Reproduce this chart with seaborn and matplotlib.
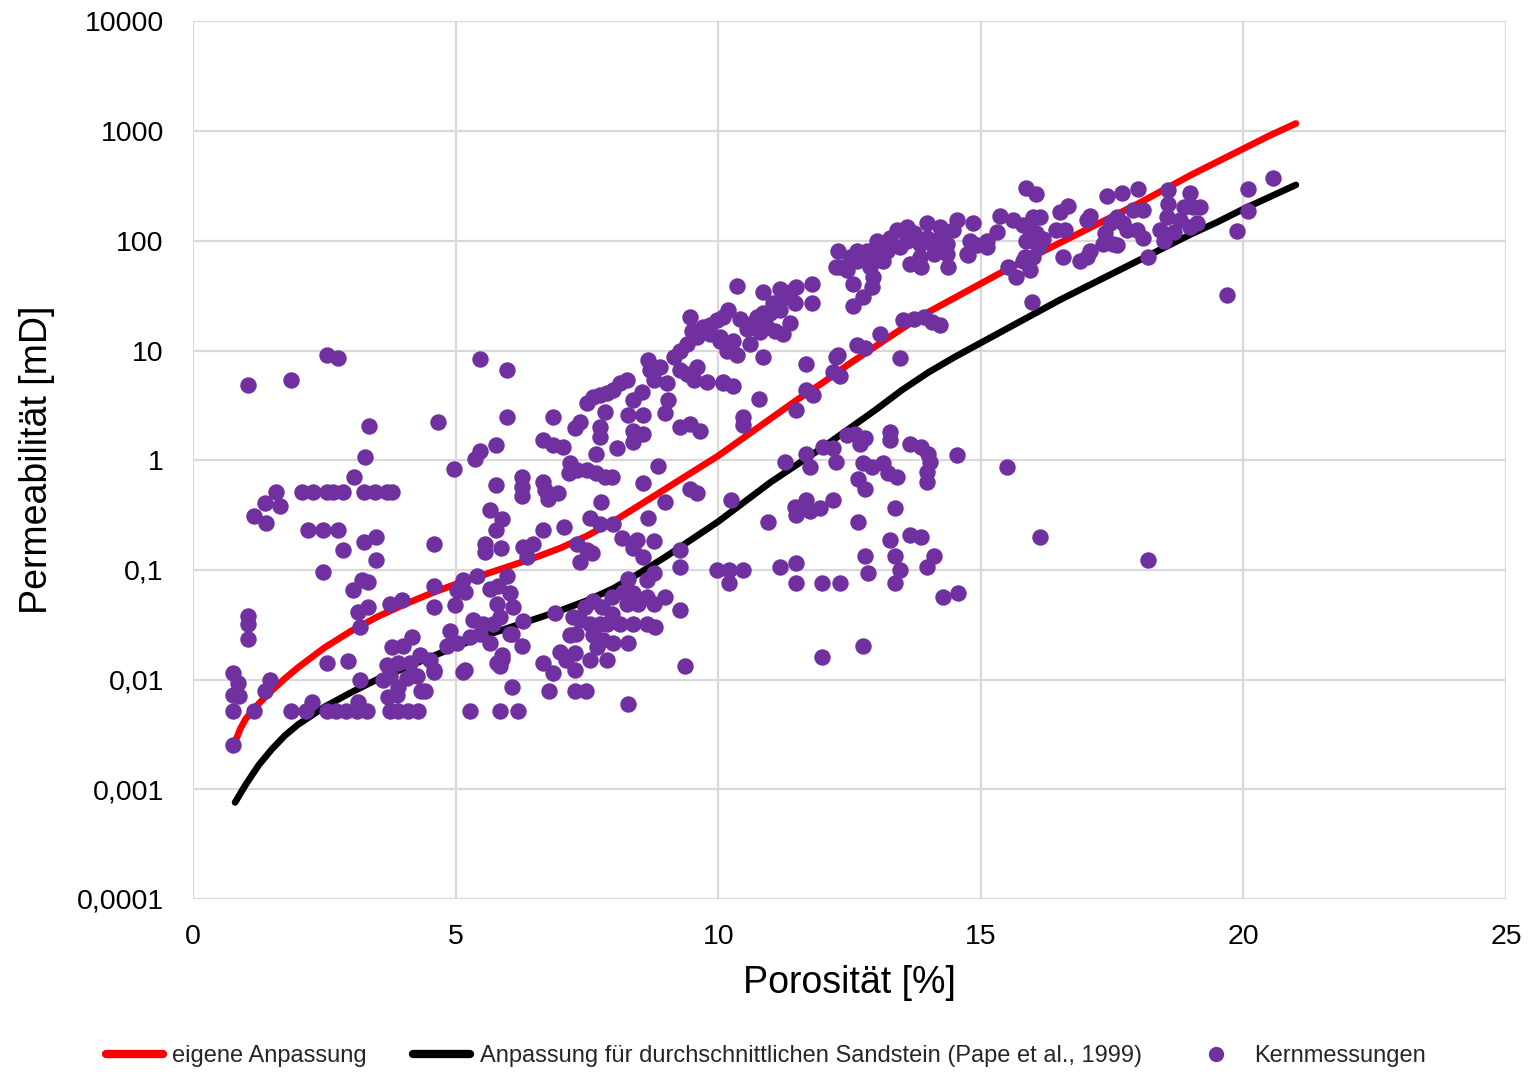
import numpy as np
import pandas as pd
import matplotlib
matplotlib.use("Agg")
import matplotlib.pyplot as plt
import seaborn as sns
from matplotlib.lines import Line2D

# ---------------- data ----------------
# fitted curve "eigene Anpassung": porosity [%] and log10 permeability [mD]
red_phi = [0.8, 0.9, 1.0, 1.25, 1.5, 1.75, 2.0, 2.5, 3.0, 3.5, 4.0, 4.5, 5.0, 5.5, 6.0, 6.5,
           7.0, 7.5, 8.0, 8.5, 9.0, 9.5, 10.0, 10.5, 11.0, 11.5, 12.0, 12.5, 13.0, 13.5, 14.0,
           14.5, 15.0, 15.5, 16.0, 16.5, 17.0, 17.5, 18.0, 18.5, 19.0, 19.5, 20.0, 20.5, 21.0]
red_logk = [-2.57, -2.45, -2.36, -2.22, -2.10, -1.99, -1.89, -1.71, -1.56, -1.43, -1.32,
            -1.22, -1.13, -1.05, -0.97, -0.89, -0.80, -0.69, -0.56, -0.41, -0.26, -0.11, 0.04,
            0.21, 0.38, 0.55, 0.71, 0.88, 1.04, 1.20, 1.35, 1.48, 1.61, 1.74, 1.86, 1.98, 2.10,
            2.22, 2.34, 2.47, 2.60, 2.72, 2.84, 2.96, 3.07]

# Pape et al. (1999) average sandstone curve
blk_phi = red_phi
blk_logk = [-3.12, -3.04, -2.96, -2.78, -2.635, -2.51, -2.41, -2.25, -2.12, -2.00, -1.90,
            -1.80, -1.70, -1.61, -1.53, -1.45, -1.37, -1.28, -1.17, -1.03, -0.88, -0.72, -0.56,
            -0.38, -0.20, -0.04, 0.12, 0.29, 0.46, 0.64, 0.80, 0.94, 1.07, 1.20, 1.33, 1.46,
            1.58, 1.70, 1.82, 1.94, 2.06, 2.17, 2.29, 2.40, 2.51]

# core measurements "Kernmessungen": porosity [%] and log10 permeability [mD]
core_phi = [
    1.05, 1.87, 2.55, 2.76, 3.36, 3.27, 3.07, 1.58, 1.37, 1.66, 1.17, 1.38,
    2.07, 2.28, 2.55, 2.67, 2.86, 3.26, 3.47, 3.69, 3.78,
    2.18, 2.47, 2.76, 2.86, 3.26, 3.48, 3.48, 2.47, 4.58,
    3.05, 3.22, 3.34, 3.14, 3.33, 3.17, 3.75, 3.97, 4.58, 4.58, 4.98,
    1.05, 1.05, 1.05, 2.55, 2.96,
    0.77, 0.86, 0.77, 0.88, 1.47, 1.37, 0.77, 1.17, 1.87,
    2.16, 2.55, 2.73, 2.92, 3.12, 3.31, 3.75, 3.91, 4.10, 4.28, 2.26, 3.15,
    3.72, 3.88, 3.91, 3.75, 3.69, 3.91, 4.13, 4.32, 4.51, 4.58, 3.78, 4.00, 4.16, 4.26, 4.07,
    4.35, 3.18, 3.62, 5.18, 5.27, 6.18, 6.07, 0.77,
    4.96, 5.46, 5.97, 5.97, 4.66, 5.37, 5.46, 5.77, 5.77, 5.65, 5.88, 5.77, 5.56, 5.56, 5.87,
    5.15, 5.18, 5.02, 5.40, 5.65, 5.81, 5.97, 6.04, 5.78, 6.10, 5.85, 5.34, 5.53, 5.72, 6.04,
    4.89, 4.83, 5.02, 5.27, 5.46, 5.65, 5.88, 5.78,
    8.67, 8.70, 8.77, 8.89, 9.15, 9.27, 9.40, 9.59, 9.84, 10.03, 10.16, 10.35, 9.27, 9.40,
    9.59, 9.53, 9.78, 10.10, 10.29, 9.02, 9.05, 8.99, 8.57, 8.29, 8.54, 8.38, 8.26, 8.13,
    8.00, 7.88, 7.75, 7.62, 7.50, 7.84, 7.75, 7.75, 7.37, 7.27, 6.86, 6.67, 6.86, 7.05, 7.68,
    8.07, 8.38, 8.57, 8.38, 9.27, 9.46, 9.65, 8.86, 8.57,
    7.18, 7.15, 7.31, 7.50, 7.68, 7.84, 7.97,
    6.67, 6.70, 6.76, 6.95, 6.26, 6.26, 6.26, 7.77, 7.56, 7.75, 8.00, 7.07, 6.67, 6.29, 6.48,
    6.35, 8.16, 8.45, 8.38, 8.57, 8.77, 8.67, 7.31, 7.50, 7.59, 7.37, 8.99, 9.46, 9.59, 10.25,
    9.27, 9.27, 9.97, 10.20, 10.48, 10.20,
    8.29, 8.19, 8.38, 8.64, 8.77, 8.64, 8.77, 8.99, 8.48, 8.26, 7.97, 7.78, 7.97, 7.88, 8.13,
    8.38, 8.64, 8.80, 7.75, 7.56, 7.37, 7.24, 7.46, 7.62, 7.30, 7.18, 7.62, 7.81, 8.00, 7.69,
    8.29, 7.88, 7.56, 7.11, 6.99, 7.27, 7.27, 6.86, 6.67, 6.77, 7.27, 7.49, 8.29, 9.37, 9.27,
    6.89, 6.29, 6.26, 6.07, 5.88, 5.84, 5.84, 5.15, 4.58, 4.41,
    10.35, 10.86, 11.18, 11.37, 11.49, 11.46, 11.30, 11.05, 10.99, 11.18, 10.86, 10.73, 10.67,
    10.54, 10.42, 10.19, 10.10, 9.97, 9.84, 9.72, 9.46, 9.50, 11.78, 11.78, 11.37, 11.24,
    11.08, 10.80, 10.92, 12.25,
    10.86, 10.61, 10.22, 10.29, 10.03, 11.68, 12.25, 12.19, 11.68, 11.81, 11.49, 10.77, 10.48,
    10.48, 10.10,
    11.27, 11.68, 11.75, 12.00, 12.19, 12.25, 11.46, 11.49, 11.68, 11.75, 11.94, 12.19, 10.95,
    11.18, 11.49, 11.49, 11.97, 12.32, 11.97,
    15.87, 16.06, 15.37, 15.62, 15.81, 16.00, 15.94, 15.87, 16.00,
    15.30, 15.11, 15.11, 14.86, 14.79, 14.73, 14.54, 14.48, 14.35, 14.35, 14.22, 14.22, 14.10,
    13.97, 13.97, 13.84, 13.84, 13.72, 13.59, 13.59, 13.46, 13.40, 13.27, 13.21, 13.14, 13.08,
    13.02, 12.95, 12.89, 12.83, 12.70, 12.64, 12.64, 12.51, 12.95, 12.92, 12.76, 12.57, 12.57,
    12.32, 12.29, 12.45, 13.65, 13.87, 14.10, 14.38, 14.92, 14.76,
    13.52, 13.72, 13.91, 14.07, 14.22, 13.08, 12.64, 12.80, 13.46, 12.29, 12.32, 15.52, 15.68,
    15.94, 15.97, 15.84,
    12.45, 12.61, 12.70, 12.80, 13.27, 13.27, 13.65, 13.87, 14.00, 14.03, 13.97, 13.97, 14.54,
    15.49, 12.76, 12.92, 13.14, 13.24, 13.40, 12.67, 12.80, 13.37, 12.67, 13.27, 13.65, 13.87,
    14.10, 13.97, 13.37, 13.46, 13.37, 12.80, 12.86, 14.29, 14.57, 12.76, 16.13,
    16.13, 15.94, 16.06, 16.19, 16.10, 16.00, 15.81, 16.51, 16.67, 16.44, 16.60, 16.57, 16.89,
    17.02, 17.08, 17.02, 17.08, 17.40, 17.68, 18.00, 17.37, 17.46, 17.59, 17.71, 17.78, 17.52,
    17.59, 17.33, 17.90, 18.09, 17.97, 18.09, 18.19, 18.57, 18.57, 18.54, 18.41, 18.48, 18.67,
    18.79, 18.86, 18.98, 19.05, 19.17, 18.98, 19.11, 19.87, 20.09, 20.09, 20.57, 19.68, 18.19,
]
core_logk = [
    0.69, 0.73, 0.96, 0.93, 0.31, 0.03, -0.155, -0.29, -0.39, -0.42, -0.51, -0.57,
    -0.294, -0.294, -0.294, -0.294, -0.294, -0.294, -0.294, -0.294, -0.294,
    -0.64, -0.64, -0.64, -0.82, -0.75, -0.70, -0.91, -1.02, -0.76,
    -1.18, -1.09, -1.11, -1.38, -1.34, -1.52, -1.31, -1.27, -1.15, -1.34, -1.32,
    -1.42, -1.49, -1.63, -1.85, -1.83,
    -1.94, -2.03, -2.14, -2.15, -2.00, -2.10, -2.29, -2.29, -2.29,
    -2.29, -2.29, -2.29, -2.29, -2.29, -2.29, -2.29, -2.29, -2.29, -2.29, -2.20, -2.20,
    -2.16, -2.14, -2.07, -1.97, -1.87, -1.85, -1.85, -1.78, -1.82, -1.93, -1.70, -1.69, -1.61,
    -1.97, -1.99, -2.10, -2.00, -2.00, -1.91, -2.29, -2.29, -2.07, -2.60,
    -0.08, 0.92, 0.82, 0.39, 0.35, 0.015, 0.08, 0.14, -0.23, -0.45, -0.54, -0.64, -0.76, -0.84,
    -0.80,
    -1.09, -1.20, -1.18, -1.06, -1.17, -1.15, -1.06, -1.21, -1.31, -1.34, -1.43, -1.46, -1.49,
    -1.49, -1.58, -1.56, -1.69, -1.67, -1.61, -1.58, -1.67, -1.81, -1.85,
    0.91, 0.82, 0.73, 0.85, 0.94, 1.00, 1.06, 1.12, 1.15, 1.09, 1.00, 0.96, 0.82, 0.79,
    0.85, 0.73, 0.71, 0.71, 0.68, 0.70, 0.55, 0.43, 0.41, 0.41, 0.62, 0.55, 0.73, 0.70,
    0.64, 0.61, 0.59, 0.58, 0.52, 0.44, 0.30, 0.21, 0.35, 0.29, 0.39, 0.18, 0.14, 0.12, 0.06,
    0.11, 0.27, 0.24, 0.17, 0.30, 0.33, 0.27, -0.05, -0.21,
    -0.03, -0.12, -0.09, -0.09, -0.12, -0.15, -0.15,
    -0.20, -0.27, -0.35, -0.30, -0.15, -0.24, -0.33, -0.38, -0.53, -0.58, -0.58, -0.61, -0.64,
    -0.79, -0.76, -0.88, -0.71, -0.73, -0.80, -0.88, -0.74, -0.53, -0.76, -0.82, -0.85, -0.93,
    -0.38, -0.26, -0.30, -0.36,
    -0.82, -0.97, -1.00, -1.00, -1.00, -1.12,
    -1.08, -1.20, -1.21, -1.09, -1.03, -1.25, -1.31, -1.25, -1.31, -1.31, -1.25, -1.34, -1.40,
    -1.49, -1.49, -1.49, -1.49, -1.52, -1.49, -1.49, -1.46, -1.43, -1.34, -1.28, -1.58, -1.59,
    -1.59, -1.64, -1.67, -1.70, -1.67, -1.82, -1.82, -1.82, -1.75, -1.76, -1.91, -1.94, -1.85,
    -2.10, -2.10, -2.10, -2.22, -1.88, -1.37,
    -1.39, -1.47, -1.69, -1.58, -1.78, -1.88, -2.29, -1.93, -1.91, -2.10,
    1.59, 1.53, 1.56, 1.53, 1.58, 1.43, 1.49, 1.43, 1.34, 1.37, 1.34, 1.31, 1.25,
    1.20, 1.29, 1.37, 1.31, 1.28, 1.23, 1.21, 1.31, 1.18, 1.61, 1.43, 1.25, 1.15,
    1.18, 1.17, 1.21, 1.76,
    0.94, 1.06, 1.03, 1.09, 1.12, 0.88, 0.94, 0.80, 0.64, 0.59, 0.46, 0.56, 0.39,
    0.32, 0.70,
    -0.02, 0.06, -0.06, 0.12, 0.11, -0.02, -0.43, -0.50, -0.36, -0.46, -0.44, -0.36, -0.56,
    -0.97, -0.94, -1.12, -1.12, -1.12, -1.79,
    2.48, 2.43, 2.23, 2.19, 2.14, 2.22, 2.10, 2.00, 2.00,
    2.08, 2.00, 1.94, 2.16, 2.00, 1.88, 2.19, 2.10, 1.97, 1.88, 2.13, 2.03, 1.94,
    2.16, 2.03, 1.97, 1.85, 2.07, 2.13, 2.00, 1.94, 2.10, 2.03, 1.91, 1.82, 1.97,
    2.00, 1.85, 1.76, 1.91, 1.88, 1.82, 1.91, 1.85, 1.67, 1.58, 1.49, 1.41, 1.61,
    1.76, 1.91, 1.73, 1.79, 1.76, 1.88, 1.76, 1.96, 1.87,
    1.28, 1.29, 1.31, 1.26, 1.23, 1.15, 1.05, 1.02, 0.93, 0.96, 0.77, 1.76, 1.67,
    1.73, 1.44, 1.85,
    0.23, 0.24, 0.15, 0.20, 0.26, 0.18, 0.15, 0.12, 0.06, -0.015, -0.11, -0.20, 0.05,
    -0.06, -0.03, -0.06, -0.03, -0.12, -0.15, -0.17, -0.26, -0.44, -0.56, -0.73, -0.68, -0.70,
    -0.87, -0.97, -0.87, -1.00, -1.12, -0.87, -1.03, -1.25, -1.21, -1.69, -0.70,
    2.22, 2.13, 2.07, 2.02, 1.94, 1.85, 1.82, 2.26, 2.32, 2.10, 2.10, 1.85, 1.82,
    1.85, 1.91, 2.19, 2.23, 2.41, 2.44, 2.47, 2.07, 2.16, 2.22, 2.16, 2.10, 1.97,
    1.96, 1.97, 2.28, 2.28, 2.10, 2.03, 1.85, 2.46, 2.34, 2.22, 2.10, 2.00, 2.08,
    2.19, 2.31, 2.44, 2.31, 2.31, 2.13, 2.16, 2.09, 2.47, 2.27, 2.57, 1.51, -0.91,
]

x_ticks = [0, 5, 10, 15, 20, 25]
y_ticks = [0.0001, 0.001, 0.01, 0.1, 1, 10, 100, 1000, 10000]
y_tick_labels = ["0,0001", "0,001", "0,01", "0,1", "1", "10", "100", "1000", "10000"]

label_red = "eigene Anpassung"
label_blk = "Anpassung für durchschnittlichen Sandstein (Pape et al., 1999)"
label_pts = "Kernmessungen"
x_label = "Porosität [%]"
y_label = "Permeabilität [mD]"

# ---------------- build tables ----------------
red_df = pd.DataFrame({"phi": red_phi, "k": 10.0 ** np.array(red_logk)})
blk_df = pd.DataFrame({"phi": blk_phi, "k": 10.0 ** np.array(blk_logk)})
core_df = pd.DataFrame({"phi": core_phi, "k": 10.0 ** np.array(core_logk)})

# ---------------- plot ----------------
sns.set_theme(style="white")
plt.rcParams['font.family'] = ['Liberation Sans', 'DejaVu Sans']

RED = "#FF0000"
BLACK = "#000000"
PURPLE = "#7030A0"
GRID = "#D9D9D9"

fig = plt.figure(figsize=(15.32, 10.74), dpi=100)
ax = fig.add_axes([0.126, 0.163, 0.857, 0.817])

sns.lineplot(data=red_df, x="phi", y="k", ax=ax, color=RED, linewidth=4.8,
             sort=True, estimator=None, zorder=3, solid_capstyle="round",
             solid_joinstyle="round")
sns.lineplot(data=blk_df, x="phi", y="k", ax=ax, color=BLACK, linewidth=4.8,
             sort=True, estimator=None, zorder=3, solid_capstyle="round",
             solid_joinstyle="round")
sns.scatterplot(data=core_df, x="phi", y="k", ax=ax, color=PURPLE, s=140,
                linewidth=0, zorder=4)

ax.set_yscale("log")
ax.set_xlim(0, 25)
ax.set_ylim(0.0001, 10000)
ax.set_xticks(x_ticks)
ax.set_xticklabels([str(t) for t in x_ticks])
ax.set_yticks(y_ticks)
ax.set_yticklabels(y_tick_labels)
ax.yaxis.set_minor_locator(matplotlib.ticker.NullLocator())

ax.grid(True, which="major", color=GRID, linewidth=1.6)
ax.set_axisbelow(True)
for sp in ax.spines.values():
    sp.set_visible(False)

ax.tick_params(axis="both", which="both", length=0, labelsize=20.5, colors="#000000")
ax.tick_params(axis="y", pad=21)
ax.tick_params(axis="x", pad=18)

ax.set_xlabel(x_label, fontsize=27, labelpad=11, color="#000000")
ax.set_ylabel(y_label, fontsize=27, labelpad=16, color="#000000")

handles = [
    Line2D([0], [0], color=RED, linewidth=6),
    Line2D([0], [0], color=BLACK, linewidth=6),
    Line2D([0], [0], color=PURPLE, linestyle="none", marker="o", markersize=11,
           markeredgewidth=0),
]
fig.legend(handles, [label_red, label_blk, label_pts], loc="center",
           bbox_to_anchor=(0.5, 0.0165), ncol=3, frameon=False, fontsize=17,
           handlelength=2.4, handletextpad=0.42, columnspacing=1.95)

fig.savefig("out.png", dpi=100)
